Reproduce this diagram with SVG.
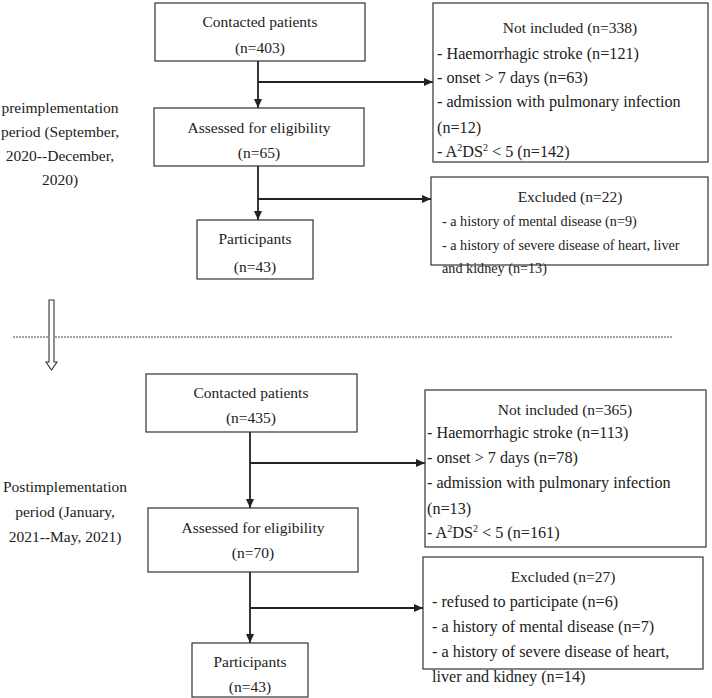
<svg xmlns="http://www.w3.org/2000/svg" width="712" height="698" viewBox="0 0 712 698" font-family="'Liberation Serif', 'DejaVu Serif', serif">
<style>
text{font-family:'Liberation Serif','Times New Roman',serif;font-size:15.5px;fill:#222}
.c{text-anchor:middle}
.li{font-size:16.2px}
.sm{font-size:14.2px}
.box{fill:#fff;stroke:#333;stroke-width:1.2}
.ln{stroke:#222;stroke-width:1.8;fill:none}
.sup{font-size:10px}
</style>
<defs>
<marker id="ah" markerUnits="userSpaceOnUse" markerWidth="10" markerHeight="10" refX="9" refY="4" orient="auto">
<path d="M0,0 L9,4 L0,8 Z" fill="#222"/>
</marker>
</defs>
<rect width="712" height="698" fill="#fff"/>

<g id="pre-label">
<text class="c" x="60" y="113">preimplementation</text>
<text class="c" x="60" y="137">period (September,</text>
<text class="c" x="60" y="161">2020--December,</text>
<text class="c" x="60" y="185">2020)</text>
</g>

<g id="connectors">
<line class="ln" x1="258" y1="61" x2="258" y2="108" marker-end="url(#ah)"/>
<line class="ln" x1="258" y1="82" x2="433" y2="82" marker-end="url(#ah)"/>
<line class="ln" x1="258" y1="166" x2="258" y2="220" marker-end="url(#ah)"/>
<line class="ln" x1="258" y1="199" x2="431" y2="199" marker-end="url(#ah)"/>
<line class="ln" x1="250" y1="432" x2="250" y2="508" marker-end="url(#ah)"/>
<line class="ln" x1="250" y1="463" x2="425" y2="463" marker-end="url(#ah)"/>
<line class="ln" x1="250" y1="572" x2="250" y2="643" marker-end="url(#ah)"/>
<line class="ln" x1="250" y1="608" x2="423" y2="608" marker-end="url(#ah)"/>
</g>

<g id="contacted1">
<rect class="box" x="155" y="3" width="210" height="58"/>
<text class="c" x="260" y="27">Contacted patients</text>
<text class="c" x="260" y="53">(n=403)</text>
</g>
<g id="assessed1">
<rect class="box" x="154" y="108" width="210" height="58"/>
<text class="c" x="259" y="133">Assessed for eligibility</text>
<text class="c" x="259" y="158">(n=65)</text>
</g>
<g id="participants1">
<rect class="box" x="197" y="220" width="116" height="59"/>
<text class="c" x="255" y="244">Participants</text>
<text class="c" x="255" y="272">(n=43)</text>
</g>
<g id="notincluded1">
<rect class="box" x="433" y="3" width="275" height="159"/>
<text class="c" x="570" y="33">Not included (n=338)</text>
<text class="li" x="437" y="59">- Haemorrhagic stroke (n=121)</text>
<text class="li" x="437" y="83">- onset &gt; 7 days (n=63)</text>
<text class="li" x="437" y="107">- admission with pulmonary infection</text>
<text class="li" x="437" y="133">(n=12)</text>
<text class="li" x="437" y="157">- A<tspan class="sup" dy="-6">2</tspan><tspan dy="6">DS</tspan><tspan class="sup" dy="-6">2</tspan><tspan dy="6"> &lt; 5 (n=142)</tspan></text>
</g>
<g id="excluded1">
<rect class="box" x="431" y="177" width="277" height="88"/>
<text class="c" x="570" y="202">Excluded (n=22)</text>
<text class="sm" x="442" y="226">- a history of mental disease (n=9)</text>
<text class="sm" x="442" y="250">- a history of severe disease of heart, liver</text>
<text class="sm" x="442" y="273">and kidney (n=13)</text>
</g>

<g id="divider">
<line x1="13" y1="337" x2="673" y2="337" stroke="#444" stroke-width="1" stroke-dasharray="2,1"/>
<polygon points="49,300 54,300 54,362 57,362 51.5,370 46,362 49,362" fill="#fff" stroke="#333" stroke-width="1.1"/>
</g>

<g id="post-label">
<text class="c" x="65" y="492">Postimplementation</text>
<text class="c" x="65" y="517">period (January,</text>
<text class="c" x="65" y="542">2021--May, 2021)</text>
</g>

<g id="contacted2">
<rect class="box" x="146" y="374" width="211" height="58"/>
<text class="c" x="251" y="398">Contacted patients</text>
<text class="c" x="251" y="423">(n=435)</text>
</g>
<g id="assessed2">
<rect class="box" x="148" y="508" width="210" height="64"/>
<text class="c" x="253" y="533">Assessed for eligibility</text>
<text class="c" x="253" y="558">(n=70)</text>
</g>
<g id="participants2">
<rect class="box" x="192" y="643" width="116" height="54"/>
<text class="c" x="250" y="667">Participants</text>
<text class="c" x="250" y="692">(n=43)</text>
</g>
<g id="notincluded2">
<rect class="box" x="425" y="390" width="281" height="157"/>
<text class="c" x="565" y="415">Not included (n=365)</text>
<text class="li" x="427" y="438">- Haemorrhagic stroke (n=113)</text>
<text class="li" x="427" y="463">- onset &gt; 7 days (n=78)</text>
<text class="li" x="427" y="488">- admission with pulmonary infection</text>
<text class="li" x="427" y="514">(n=13)</text>
<text class="li" x="427" y="538">- A<tspan class="sup" dy="-6">2</tspan><tspan dy="6">DS</tspan><tspan class="sup" dy="-6">2</tspan><tspan dy="6"> &lt; 5 (n=161)</tspan></text>
</g>
<g id="excluded2">
<rect class="box" x="423" y="557" width="280" height="112"/>
<text class="c" x="563" y="582">Excluded (n=27)</text>
<text class="li" x="432" y="607">- refused to participate (n=6)</text>
<text class="li" x="432" y="632">- a history of mental disease (n=7)</text>
<text class="li" x="432" y="657">- a history of severe disease of heart,</text>
<text class="li" x="432" y="682">liver and kidney (n=14)</text>
</g>
</svg>
